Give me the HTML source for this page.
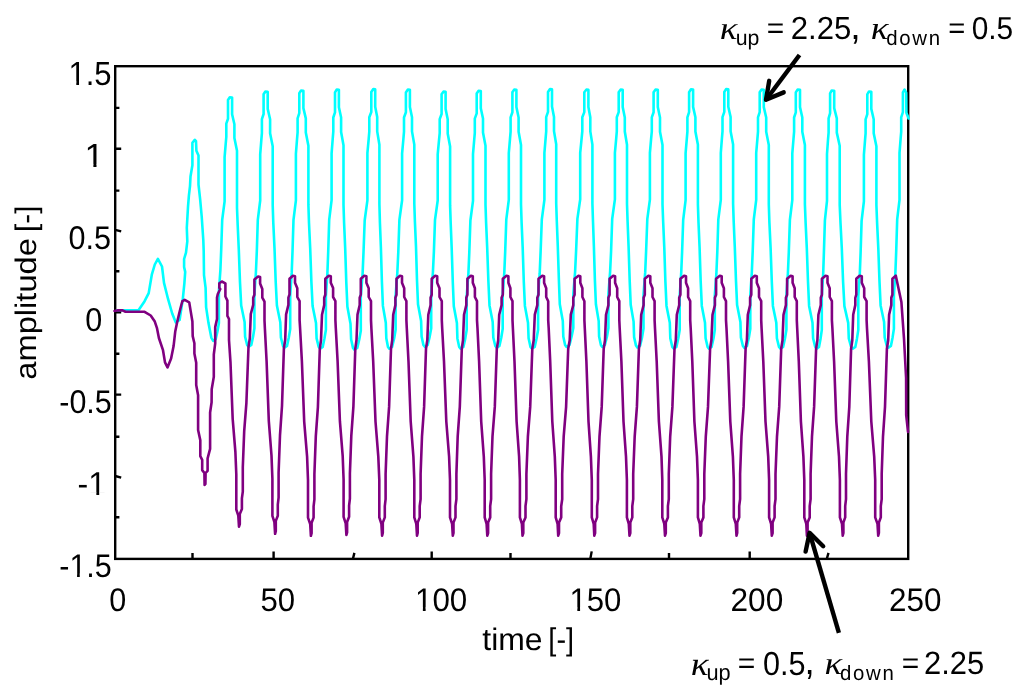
<!DOCTYPE html>
<html><head><meta charset="utf-8"><title>amplitude vs time</title>
<style>html,body{margin:0;padding:0;background:#fff;width:1024px;height:686px;overflow:hidden;font-family:"Liberation Sans",sans-serif}svg{display:block}</style>
</head><body>
<svg width="1024" height="686" viewBox="0 0 1024 686">
<rect width="1024" height="686" fill="#fff"/>
<path d="M115.2,107.9L119.4,107.9 M115.2,148.8L121.2,148.8 M115.2,190.6L119.4,190.6 M115.2,229.9L121.2,231.4 M115.2,271.3L119.4,271.3 M115.2,312.3L121.2,312.3 M115.2,353.8L119.4,353.8 M115.2,394.6L121.2,394.6 M115.2,436.7L119.4,436.7 M115.2,476.0L121.2,477.6 M115.2,517.3L119.4,517.3 M192.5,558.9L192.5,552.9 M273.6,558.9L273.6,551.4 M352.9,558.9L354.4,552.9 M431.7,558.9L431.7,551.4 M510.5,558.9L510.5,552.9 M590.3,558.9L591.7,551.4 M669.0,558.9L669.0,552.9 M749.7,558.9L749.7,551.4 M826.8,558.9L828.5,552.9" fill="none" stroke="#000" stroke-width="2.4"/>
<rect x="115.2" y="66.2" width="793.0" height="492.7" fill="none" stroke="#000" stroke-width="2.4"/>
<path d="M117.0,310.3 138.5,310.3 144.6,301.2 148.7,293.1 151.8,274.7 154.8,264.5 157.9,258.8 162.0,266.5 164.0,282.9 168.1,299.2 172.2,313.5 175.8,322.5 179.6,320.0 182.8,299.1 184.4,283.1 185.2,271.9 184.1,267.0 184.1,259.0 186.0,252.6 187.3,241.4 186.8,227.8 188.0,206.9 188.9,195.7 190.0,186.1 190.5,176.5 192.4,165.3 192.4,142.8 194.8,139.8 196.0,141.2 196.4,150.8 198.5,155.6 198.5,184.5 200.1,198.9 201.7,216.5 203.3,240.0 203.7,251.0 204.0,275.1 205.6,287.9 206.1,307.1 208.5,323.1 211.3,337.6 213.2,340.9 215.7,339.2 217.5,331.2 218.9,323.1 218.9,291.0 220.4,270.0 221.2,250.0 222.2,219.8 224.6,201.3 224.6,157.2 225.7,143.8 226.3,137.0 226.3,123.6 228.0,118.7 228.0,100.0 229.8,97.3 232.1,97.5 232.1,114.3 234.4,124.2 234.4,138.0 237.0,150.7 237.0,207.8 237.7,225.3 238.8,249.7 240.0,282.4 241.2,305.6 244.6,321.9 245.1,336.8 247.2,345.1 248.8,346.8 251.3,345.0 253.1,336.6 254.4,328.2 254.4,294.5 255.9,272.5 256.8,251.6 257.8,219.9 260.2,200.5 260.2,154.3 261.3,140.3 261.9,133.1 261.9,119.1 263.6,114.0 263.6,94.3 265.4,91.5 267.7,91.8 267.7,108.9 270.1,119.2 270.1,133.3 272.7,146.3 272.7,205.0 273.3,223.0 274.5,248.1 275.7,281.7 276.9,305.5 280.3,322.2 280.9,337.5 283.0,346.0 284.5,347.8 287.0,346.0 288.8,337.5 290.2,329.0 290.2,295.1 291.7,272.9 292.5,251.8 293.5,219.9 295.9,200.4 295.9,153.8 297.0,139.6 297.6,132.4 297.6,118.3 299.3,113.1 299.3,93.3 301.1,90.5 303.4,90.8 303.4,108.1 305.8,118.4 305.8,132.6 308.4,145.8 308.4,204.9 309.0,223.0 310.2,248.3 311.4,282.1 312.6,306.1 316.0,322.9 316.6,338.4 318.7,346.9 320.2,348.7 322.7,346.9 324.5,338.3 325.9,329.8 325.9,295.6 327.4,273.3 328.2,252.0 329.2,219.9 331.6,200.2 331.6,153.3 332.7,139.0 333.3,131.7 333.3,117.5 335.0,112.3 335.0,92.4 336.8,89.5 338.9,89.8 338.9,107.2 341.1,117.6 341.1,131.9 343.5,145.2 343.5,204.8 344.1,223.0 345.2,248.5 346.3,282.6 347.4,306.8 350.5,323.7 351.1,339.3 353.0,347.9 354.4,349.7 357.3,347.9 359.3,339.3 360.8,330.7 360.8,296.3 362.6,273.9 363.5,252.5 364.7,220.2 367.4,200.4 367.4,153.2 368.7,138.9 369.3,131.6 369.3,117.2 371.3,112.0 371.3,92.0 373.3,89.1 375.2,89.4 375.2,106.8 377.2,117.1 377.2,131.4 379.4,144.7 379.4,204.1 379.9,222.3 380.9,247.7 381.9,281.7 382.9,305.9 385.8,322.7 386.3,338.3 388.0,346.9 389.3,348.7 392.1,346.9 394.2,338.3 395.6,329.8 395.6,295.6 397.3,273.3 398.3,252.0 399.4,219.9 402.1,200.2 402.1,153.3 403.4,139.0 404.0,131.7 404.0,117.5 405.9,112.3 405.9,92.4 407.9,89.5 409.9,89.8 409.9,107.0 412.0,117.3 412.0,131.4 414.3,144.6 414.3,203.5 414.9,221.5 416.0,246.7 417.0,280.4 418.0,304.3 421.1,321.1 421.6,336.5 423.4,345.0 424.8,346.8 427.7,345.0 429.7,336.6 431.2,328.2 431.2,294.5 432.9,272.5 433.9,251.6 435.0,219.9 437.7,200.5 437.7,154.3 439.0,140.3 439.7,133.1 439.7,119.1 441.6,114.0 441.6,94.3 443.6,91.5 445.6,91.8 445.6,109.0 447.7,119.3 447.7,133.4 450.1,146.5 450.1,205.4 450.7,223.4 451.7,248.6 452.8,282.3 453.8,306.3 456.9,323.0 457.4,338.4 459.2,346.9 460.6,348.7 463.4,346.9 465.3,338.4 466.7,329.9 466.7,295.8 468.4,273.6 469.3,252.5 470.4,220.5 473.0,200.9 473.0,154.2 474.2,140.0 474.8,132.8 474.8,118.6 476.7,113.4 476.7,93.5 478.6,90.7 480.8,91.0 480.8,108.2 483.0,118.5 483.0,132.6 485.5,145.7 485.5,204.6 486.1,222.6 487.2,247.8 488.4,281.5 489.5,305.4 492.7,322.1 493.3,337.5 495.3,346.0 496.7,347.8 499.4,346.0 501.3,337.5 502.7,328.9 502.7,294.8 504.3,272.6 505.2,251.5 506.3,219.4 508.8,199.8 508.8,153.0 510.0,138.8 510.6,131.6 510.6,117.4 512.4,112.2 512.4,92.3 514.3,89.5 516.4,89.8 516.4,107.1 518.6,117.5 518.6,131.7 521.0,145.0 521.0,204.3 521.6,222.5 522.7,247.9 523.8,281.8 524.9,305.9 528.0,322.8 528.6,338.3 530.5,346.9 531.9,348.7 534.7,346.9 536.6,338.3 538.1,329.7 538.1,295.5 539.7,273.2 540.6,251.9 541.8,219.7 544.4,199.9 544.4,153.0 545.6,138.7 546.2,131.4 546.2,117.1 548.0,111.9 548.0,92.0 550.0,89.1 552.0,89.4 552.0,106.6 554.0,116.9 554.0,131.1 556.2,144.2 556.2,203.3 556.8,221.3 557.8,246.6 558.9,280.3 559.8,304.3 562.8,321.0 563.3,336.5 565.1,345.0 566.4,346.8 569.5,345.0 571.6,336.5 573.3,328.0 573.3,294.1 575.1,271.9 576.1,250.8 577.4,218.9 580.2,199.4 580.2,152.8 581.6,138.6 582.3,131.4 582.3,117.3 584.3,112.1 584.3,92.3 586.5,89.5 588.4,89.8 588.4,107.0 590.3,117.3 590.3,131.4 592.4,144.6 592.4,203.5 593.0,221.5 593.9,246.7 594.9,280.4 595.9,304.3 598.7,321.1 599.1,336.5 600.9,345.0 602.1,346.8 604.9,345.0 607.0,336.5 608.4,328.0 608.4,294.1 610.1,271.9 611.1,250.8 612.2,218.9 614.9,199.4 614.9,152.8 616.2,138.6 616.8,131.4 616.8,117.3 618.7,112.1 618.7,92.3 620.7,89.5 622.7,89.8 622.7,107.0 624.8,117.4 624.8,131.5 627.0,144.7 627.0,203.7 627.6,221.8 628.6,247.1 629.7,280.9 630.7,304.8 633.6,321.6 634.1,337.1 636.0,345.6 637.3,347.4 640.1,345.6 642.1,337.1 643.5,328.6 643.5,294.5 645.2,272.4 646.1,251.2 647.3,219.2 649.9,199.6 649.9,152.9 651.1,138.8 651.8,131.5 651.8,117.4 653.6,112.2 653.6,92.3 655.6,89.5 657.8,89.8 657.8,107.1 660.0,117.5 660.0,131.7 662.5,145.0 662.5,204.3 663.2,222.5 664.3,247.9 665.4,281.8 666.5,305.9 669.8,322.8 670.3,338.3 672.3,346.9 673.8,348.7 676.4,346.9 678.3,338.3 679.7,329.8 679.7,295.5 681.2,273.2 682.1,251.9 683.2,219.8 685.6,200.1 685.6,153.1 686.8,138.8 687.4,131.6 687.4,117.3 689.1,112.1 689.1,92.2 691.0,89.3 693.1,89.6 693.1,106.9 695.4,117.3 695.4,131.6 697.9,144.8 697.9,204.2 698.5,222.4 699.6,247.8 700.7,281.8 701.8,305.9 705.0,322.8 705.6,338.3 707.6,346.9 709.0,348.7 711.6,346.9 713.5,338.3 714.8,329.7 714.8,295.5 716.4,273.2 717.3,251.9 718.3,219.7 720.8,199.9 720.8,153.0 721.9,138.7 722.5,131.4 722.5,117.1 724.3,111.9 724.3,92.0 726.1,89.1 728.3,89.4 728.3,106.7 730.6,117.0 730.6,131.3 733.1,144.5 733.1,203.7 733.7,221.8 734.8,247.2 736.0,281.1 737.1,305.1 740.4,321.9 740.9,337.5 742.9,346.0 744.4,347.8 747.0,346.0 748.9,337.5 750.3,328.9 750.3,294.8 751.8,272.6 752.7,251.5 753.8,219.4 756.2,199.8 756.2,153.0 757.4,138.8 758.0,131.6 758.0,117.4 759.7,112.2 759.7,92.3 761.6,89.5 763.8,89.8 763.8,107.1 766.2,117.5 766.2,131.7 768.8,145.0 768.8,204.3 769.4,222.5 770.6,247.9 771.8,281.8 772.9,305.9 776.3,322.8 776.9,338.3 779.0,346.9 780.5,348.7 783.1,346.9 785.0,338.3 786.4,329.8 786.4,295.6 787.9,273.3 788.8,252.0 789.9,219.9 792.3,200.2 792.3,153.3 793.5,139.0 794.1,131.7 794.1,117.5 795.8,112.3 795.8,92.4 797.7,89.5 800.0,89.8 800.0,107.1 802.3,117.5 802.3,131.7 804.9,145.0 804.9,204.3 805.6,222.5 806.8,247.9 808.0,281.8 809.1,305.9 812.5,322.8 813.1,338.3 815.2,346.9 816.7,348.7 819.0,346.9 820.6,338.4 821.8,329.9 821.8,295.8 823.2,273.6 823.9,252.4 824.9,220.4 827.0,200.8 827.0,154.0 828.0,139.8 828.6,132.6 828.6,118.4 830.1,113.2 830.1,93.3 831.7,90.5 834.2,90.8 834.2,108.1 836.8,118.4 836.8,132.6 839.7,145.8 839.7,204.9 840.5,223.0 841.8,248.3 843.1,282.1 844.4,306.1 848.2,322.9 848.8,338.4 851.1,346.9 852.8,348.7 855.3,346.9 857.0,338.4 858.3,329.9 858.3,296.0 859.8,273.9 860.6,252.8 861.6,220.9 863.9,201.3 863.9,154.8 865.0,140.6 865.6,133.4 865.6,119.3 867.3,114.1 867.3,94.3 869.0,91.5 871.3,91.8 871.3,108.9 873.7,119.2 873.7,133.3 876.4,146.3 876.4,205.0 877.1,222.9 878.3,248.0 879.5,281.6 880.6,305.4 884.1,322.1 884.7,337.5 886.8,345.9 888.4,347.7 890.9,345.9 892.6,337.4 893.9,328.9 893.9,294.8 895.4,272.6 896.2,251.4 897.2,219.4 899.5,199.8 899.5,153.0 900.6,138.8 901.2,131.6 901.2,117.4 902.9,112.2 902.9,92.3 904.6,89.5 906.2,92.8 906.4,112.7 908.6,118.5" fill="none" stroke="#00ffff" stroke-width="2.6" stroke-linejoin="round" stroke-linecap="round"/>
<path d="M114.5,311.0 118.0,310.2 122.5,310.4 125.5,311.8 144.6,311.8 150.7,315.5 154.8,321.6 156.9,327.8 158.9,338.0 163.0,350.2 165.0,362.4 167.5,367.4 171.1,358.4 173.6,346.1 175.2,331.8 177.3,321.6 179.3,313.0 181.2,305.5 182.4,301.2 184.7,299.8 189.2,302.3 190.8,311.9 192.4,321.5 192.7,336.1 194.4,343.3 194.4,353.5 196.2,362.7 196.2,385.1 198.1,395.3 198.1,430.0 200.3,440.2 200.3,456.2 202.2,459.9 202.2,470.1 204.4,473.0 204.6,485.0 205.4,484.0 205.6,473.0 207.6,470.8 207.6,458.4 210.1,448.9 210.1,412.5 211.6,402.3 211.7,389.2 213.8,376.9 213.8,354.5 215.2,343.3 215.2,327.1 217.0,319.0 217.0,297.6 217.8,294.0 220.3,289.0 219.3,287.9 219.3,283.3 221.8,281.5 225.4,283.3 225.4,296.5 227.4,300.6 227.4,315.9 229.0,319.0 229.0,340.0 230.5,362.7 232.7,419.2 235.4,452.2 236.3,474.2 236.3,509.5 238.3,515.6 239.0,526.6 239.8,524.1 239.8,514.1 241.9,509.1 241.9,498.3 242.8,491.6 242.8,467.3 244.2,431.1 246.4,402.8 248.5,346.8 249.8,338.5 250.8,314.0 253.2,304.8 253.2,297.8 254.4,294.8 254.4,279.5 258.1,276.5 260.1,277.0 260.1,283.4 262.3,288.9 262.3,297.6 264.5,301.7 264.5,320.5 264.9,328.7 266.6,361.4 268.8,420.8 271.5,455.6 272.4,478.7 272.4,515.8 274.4,522.2 275.1,533.8 275.8,531.2 275.8,520.9 277.8,515.7 277.8,504.6 278.6,497.7 278.6,472.6 280.0,435.2 282.0,406.0 283.9,348.2 285.2,339.7 286.1,314.4 288.4,304.9 288.4,297.6 289.5,294.5 289.5,278.8 292.9,275.7 295.0,276.2 295.0,282.7 297.3,288.2 297.3,297.0 299.6,301.2 299.6,320.2 300.1,328.5 301.9,361.5 304.2,421.6 307.1,456.7 308.0,480.1 308.0,517.6 310.2,524.1 310.9,535.8 311.6,533.2 311.6,522.8 313.6,517.6 313.6,506.4 314.4,499.4 314.4,474.2 315.8,436.4 317.9,407.1 319.8,348.8 321.0,340.2 322.0,314.7 324.2,305.1 324.2,297.8 325.3,294.7 325.3,278.8 328.8,275.7 330.8,276.2 330.8,282.7 333.1,288.1 333.1,297.0 335.4,301.1 335.4,320.0 335.8,328.3 337.6,361.3 339.9,421.2 342.7,456.2 343.6,479.5 343.6,516.8 345.7,523.3 346.4,535.0 347.1,532.4 347.1,522.0 349.1,516.8 349.1,505.7 349.9,498.7 349.9,473.5 351.3,435.9 353.4,406.6 355.3,348.6 356.5,340.0 357.5,314.6 359.7,305.0 359.7,297.7 360.8,294.6 360.8,278.8 364.3,275.7 366.4,276.2 366.4,282.7 368.7,288.2 368.7,297.0 371.0,301.2 371.0,320.1 371.4,328.5 373.2,361.5 375.5,421.5 378.3,456.6 379.3,480.0 379.3,517.4 381.4,523.9 382.1,535.6 382.8,533.0 382.8,522.6 384.8,517.4 384.8,506.2 385.6,499.2 385.6,474.0 387.0,436.3 389.1,406.9 391.0,348.7 392.2,340.2 393.2,314.7 395.4,305.1 395.4,297.8 396.5,294.7 396.5,278.8 400.0,275.7 402.0,276.2 402.0,282.7 404.2,288.2 404.2,297.0 406.4,301.2 406.4,320.1 406.8,328.5 408.5,361.5 410.7,421.5 413.4,456.6 414.3,480.0 414.3,517.4 416.3,523.9 417.0,535.6 417.7,533.0 417.7,522.6 419.7,517.4 419.7,506.2 420.6,499.2 420.6,474.0 422.0,436.3 424.1,406.9 426.0,348.7 427.3,340.2 428.3,314.7 430.6,305.1 430.6,297.8 431.7,294.7 431.7,278.8 435.2,275.7 437.2,276.2 437.2,282.7 439.5,288.2 439.5,297.0 441.8,301.2 441.8,320.1 442.2,328.5 444.0,361.5 446.3,421.5 449.1,456.6 450.0,480.0 450.0,517.4 452.1,523.9 452.8,535.6 453.5,533.0 453.5,522.6 455.5,517.4 455.5,506.2 456.4,499.2 456.4,474.0 457.7,436.3 459.8,406.9 461.8,348.7 463.0,340.2 464.0,314.7 466.3,305.1 466.3,297.8 467.4,294.7 467.4,278.8 470.9,275.7 472.8,276.2 472.8,282.7 474.9,288.2 474.9,297.0 477.0,301.2 477.0,320.1 477.5,328.5 479.1,361.5 481.2,421.5 483.8,456.6 484.7,480.0 484.7,517.4 486.6,523.9 487.3,535.6 488.1,533.0 488.1,522.6 490.2,517.4 490.2,506.2 491.1,499.2 491.1,474.0 492.5,436.3 494.8,406.9 496.8,348.7 498.2,340.2 499.2,314.7 501.6,305.1 501.6,297.8 502.8,294.7 502.8,278.8 506.5,275.7 508.4,276.2 508.4,282.7 510.4,288.2 510.4,297.0 512.5,301.2 512.5,320.1 512.9,328.5 514.5,361.5 516.6,421.5 519.1,456.6 519.9,480.0 519.9,517.4 521.9,523.9 522.5,535.6 523.3,533.0 523.3,522.6 525.5,517.4 525.5,506.2 526.4,499.2 526.4,474.0 527.9,436.3 530.2,406.9 532.3,348.7 533.7,340.2 534.8,314.7 537.3,305.1 537.3,297.8 538.5,294.7 538.5,278.8 542.3,275.7 544.1,276.2 544.1,282.7 546.2,288.2 546.2,297.0 548.2,301.2 548.2,320.1 548.7,328.5 550.2,361.5 552.3,421.5 554.8,456.6 555.7,480.0 555.7,517.4 557.6,523.9 558.2,535.6 559.0,533.0 559.0,522.6 561.2,517.4 561.2,506.2 562.2,499.2 562.2,474.0 563.7,436.3 566.1,406.9 568.2,348.7 569.7,340.2 570.8,314.7 573.3,305.1 573.3,297.8 574.6,294.7 574.6,278.8 578.5,275.7 580.3,276.2 580.3,282.7 582.4,288.2 582.4,297.0 584.4,301.2 584.4,320.1 584.8,328.5 586.4,361.5 588.5,421.5 590.9,456.6 591.8,480.0 591.8,517.4 593.7,523.9 594.3,535.6 595.1,533.0 595.1,522.6 597.1,517.4 597.1,506.2 598.0,499.2 598.0,474.0 599.5,436.3 601.7,406.9 603.7,348.7 605.0,340.2 606.0,314.7 608.4,305.1 608.4,297.8 609.6,294.7 609.6,278.8 613.2,275.7 615.1,276.2 615.1,282.7 617.2,288.2 617.2,297.0 619.3,301.2 619.3,320.1 619.7,328.5 621.4,361.5 623.5,421.5 626.0,456.6 626.9,480.0 626.9,517.4 628.8,523.9 629.5,535.6 630.3,533.0 630.3,522.6 632.3,517.4 632.3,506.2 633.2,499.2 633.2,474.0 634.7,436.3 636.9,406.9 638.9,348.7 640.2,340.2 641.2,314.7 643.6,305.1 643.6,297.8 644.8,294.7 644.8,278.8 648.4,275.7 650.3,276.2 650.3,282.7 652.5,288.2 652.5,297.0 654.6,301.2 654.6,320.1 655.0,328.5 656.7,361.5 658.9,421.5 661.5,456.6 662.3,480.0 662.3,517.4 664.3,523.9 665.0,535.6 665.8,533.0 665.8,522.6 667.9,517.4 667.9,506.2 668.8,499.2 668.8,474.0 670.2,436.3 672.4,406.9 674.5,348.7 675.8,340.2 676.8,314.7 679.2,305.1 679.2,297.8 680.4,294.7 680.4,278.8 684.1,275.7 686.0,276.2 686.0,282.7 688.1,288.2 688.1,297.0 690.2,301.2 690.2,320.1 690.7,328.5 692.3,361.5 694.4,421.5 697.0,456.6 697.9,480.0 697.9,517.4 699.8,523.9 700.5,535.6 701.3,533.0 701.3,522.6 703.4,517.4 703.4,506.2 704.3,499.2 704.3,474.0 705.8,436.3 708.0,406.9 710.1,348.7 711.4,340.2 712.5,314.7 714.9,305.1 714.9,297.8 716.1,294.7 716.1,278.8 719.8,275.7 721.7,276.2 721.7,282.7 723.9,288.2 723.9,297.0 726.0,301.2 726.0,320.1 726.5,328.5 728.1,361.5 730.3,421.5 732.9,456.6 733.8,480.0 733.8,517.4 735.8,523.9 736.5,535.6 737.2,533.0 737.2,522.6 739.2,517.4 739.2,506.2 740.1,499.2 740.1,474.0 741.5,436.3 743.6,406.9 745.6,348.7 746.9,340.2 747.8,314.7 750.1,305.1 750.1,297.8 751.3,294.7 751.3,278.8 754.8,275.7 756.8,276.2 756.8,282.7 759.0,288.2 759.0,297.0 761.2,301.2 761.2,320.1 761.6,328.5 763.3,361.5 765.5,421.5 768.2,456.6 769.1,480.0 769.1,517.4 771.1,523.9 771.8,535.6 772.6,533.0 772.6,522.6 774.6,517.4 774.6,506.2 775.5,499.2 775.5,474.0 777.0,436.3 779.2,406.9 781.2,348.7 782.5,340.2 783.5,314.7 785.9,305.1 785.9,297.8 787.1,294.7 787.1,278.8 790.7,275.7 792.6,276.2 792.6,282.7 794.7,288.2 794.7,297.0 796.8,301.2 796.8,320.1 797.2,328.5 798.8,361.5 800.9,421.5 803.4,456.6 804.3,480.0 804.3,517.4 806.3,523.9 806.9,535.6 807.6,533.0 807.6,522.6 809.7,517.4 809.7,506.2 810.6,499.2 810.6,474.0 812.0,436.3 814.1,406.9 816.1,348.7 817.4,340.2 818.4,314.7 820.8,305.1 820.8,297.8 821.9,294.7 821.9,278.8 825.5,275.7 827.5,276.2 827.5,282.7 829.7,288.2 829.7,297.0 831.9,301.2 831.9,320.1 832.4,328.5 834.1,361.5 836.3,421.5 839.0,456.6 839.9,480.0 839.9,517.4 842.0,523.9 842.7,535.6 843.4,533.0 843.4,522.6 845.2,517.4 845.2,506.2 846.0,499.2 846.0,474.0 847.3,436.3 849.3,406.9 851.1,348.7 852.3,340.2 853.2,314.7 855.3,305.1 855.3,297.8 856.3,294.7 856.3,278.8 859.6,275.7 861.8,276.2 861.8,282.7 864.2,288.2 864.2,297.0 866.6,301.2 866.6,320.1 867.0,328.5 868.9,361.5 871.3,421.5 874.2,456.6 875.2,480.0 875.2,517.4 877.5,523.9 878.2,535.6 878.9,533.0 878.9,522.6 880.8,517.4 880.8,506.2 881.7,499.2 881.7,474.0 883.0,436.3 885.0,406.9 886.9,348.7 888.2,340.2 889.1,314.7 891.3,305.1 891.3,297.8 892.4,294.7 892.4,278.8 895.8,275.7 901.4,302.0 904.0,338.7 906.1,378.0 906.2,415.0 908.0,431.9" fill="none" stroke="#800080" stroke-width="2.6" stroke-linejoin="round" stroke-linecap="round"/>
<g stroke="#000" stroke-width="4.4" fill="none">
<path d="M799.5,55 L766,99.8" stroke-linecap="butt"/>
<path d="M769.2,80.8 L766,99.8 L783.7,92.4" stroke-linecap="round" stroke-linejoin="round"/>
<path d="M838.9,632.8 L809.6,532.8" stroke-linecap="butt"/>
<path d="M805.6,551.6 L809.6,532.8 L823.2,546.2" stroke-linecap="round" stroke-linejoin="round"/>
</g>
<g fill="#000" opacity="0.999" style="font-kerning:none" text-rendering="geometricPrecision">
<text transform="matrix(0.30912 0.00000 0.00000 0.33393 68.527 84.774)" font-family="Liberation Sans" font-size="100">1.5</text><g fill="#fff" transform="matrix(0.30912 0.00000 0.00000 0.33393 68.527 84.774)"><rect x="5.371" y="-10.010" width="19.775" height="12.939"/><rect x="33.984" y="-10.010" width="19.238" height="12.939"/></g>
<text transform="matrix(0.35296 0.00000 0.00000 0.33285 84.505 167.300)" font-family="Liberation Sans" font-size="100">1</text><g fill="#fff" transform="matrix(0.35296 0.00000 0.00000 0.33285 84.505 167.300)"><rect x="5.371" y="-10.010" width="19.775" height="12.939"/><rect x="33.984" y="-10.010" width="19.238" height="12.939"/></g>
<text transform="matrix(0.30556 0.00000 0.00000 0.32768 68.606 249.180)" font-family="Liberation Sans" font-size="100">0.5</text>
<text transform="matrix(0.30542 0.00000 0.00000 0.33050 85.307 331.277)" font-family="Liberation Sans" font-size="100">0</text>
<text transform="matrix(0.30488 0.00000 0.00000 0.32768 59.245 413.180)" font-family="Liberation Sans" font-size="100">-0.5</text>
<text transform="matrix(0.32144 0.00000 0.00000 0.33140 77.572 495.400)" font-family="Liberation Sans" font-size="100">-1</text><g fill="#fff" transform="matrix(0.32144 0.00000 0.00000 0.33140 77.572 495.400)"><rect x="38.672" y="-10.010" width="19.775" height="12.939"/><rect x="67.285" y="-10.010" width="19.238" height="12.939"/></g>
<text transform="matrix(0.30488 0.00000 0.00000 0.32820 59.245 576.779)" font-family="Liberation Sans" font-size="100">-1.5</text><g fill="#fff" transform="matrix(0.30488 0.00000 0.00000 0.32820 59.245 576.779)"><rect x="38.672" y="-10.010" width="19.775" height="12.939"/><rect x="67.285" y="-10.010" width="19.238" height="12.939"/></g>
<text transform="matrix(0.30542 0.00000 0.00000 0.32486 109.307 610.583)" font-family="Liberation Sans" font-size="100">0</text>
<text transform="matrix(0.31165 0.00000 0.00000 0.32627 260.452 610.681)" font-family="Liberation Sans" font-size="100">50</text>
<text transform="matrix(0.31307 0.00000 0.00000 0.32627 414.989 610.581)" font-family="Liberation Sans" font-size="100">100</text><g fill="#fff" transform="matrix(0.31307 0.00000 0.00000 0.32627 414.989 610.581)"><rect x="5.371" y="-10.010" width="19.775" height="12.939"/><rect x="33.984" y="-10.010" width="19.238" height="12.939"/></g>
<text transform="matrix(0.31111 0.00000 0.00000 0.32627 569.507 610.581)" font-family="Liberation Sans" font-size="100">150</text><g fill="#fff" transform="matrix(0.31111 0.00000 0.00000 0.32627 569.507 610.581)"><rect x="5.371" y="-10.010" width="19.775" height="12.939"/><rect x="33.984" y="-10.010" width="19.238" height="12.939"/></g>
<text transform="matrix(0.31664 0.00000 0.00000 0.32627 730.508 610.581)" font-family="Liberation Sans" font-size="100">200</text>
<text transform="matrix(0.31410 0.00000 0.00000 0.32627 889.120 610.581)" font-family="Liberation Sans" font-size="100">250</text>
<text transform="matrix(0.31920 0.00000 0.00000 0.31183 482.317 650.095)" font-family="Liberation Sans" font-size="100">time</text>
<text transform="matrix(0.28951 0.00000 0.00000 0.31433 548.336 650.377)" font-family="Liberation Sans" font-size="100">[-]</text>
<text transform="matrix(0.36996 0.00000 0.00000 0.32463 719.745 38.900)" font-family="Liberation Serif" font-size="100" font-style="italic">κ</text>
<text transform="matrix(0.21286 0.00000 0.00000 0.21473 735.718 44.944)" font-family="Liberation Sans" font-size="100">up</text>
<text transform="matrix(0.29845 0.00000 0.00000 0.29789 766.843 37.704)" font-family="Liberation Sans" font-size="100">=</text>
<text transform="matrix(0.31122 0.00000 0.00000 0.31921 790.735 39.188)" font-family="Liberation Sans" font-size="100">2.25</text>
<text transform="matrix(0.37700 0.00000 0.00000 0.36617 850.313 39.016)" font-family="Liberation Sans" font-size="100">,</text>
<text transform="matrix(0.36996 0.00000 0.00000 0.32681 870.645 39.000)" font-family="Liberation Serif" font-size="100" font-style="italic">κ</text>
<text transform="matrix(0.20413 0.00000 0.00000 0.20834 886.143 44.597)" font-family="Liberation Sans" font-size="100" letter-spacing="8.301">down</text>
<text transform="matrix(0.29228 0.00000 0.00000 0.29789 948.373 37.704)" font-family="Liberation Sans" font-size="100">=</text>
<text transform="matrix(0.29868 0.00000 0.00000 0.31638 971.633 39.091)" font-family="Liberation Sans" font-size="100">0.5</text>
<text transform="matrix(0.37216 0.00000 0.00000 0.33117 690.737 674.600)" font-family="Liberation Serif" font-size="100" font-style="italic">κ</text>
<text transform="matrix(0.21783 0.00000 0.00000 0.22278 706.385 680.077)" font-family="Liberation Sans" font-size="100">up</text>
<text transform="matrix(0.30051 0.00000 0.00000 0.29789 737.733 672.904)" font-family="Liberation Sans" font-size="100">=</text>
<text transform="matrix(0.30556 0.00000 0.00000 0.33333 763.006 674.574)" font-family="Liberation Sans" font-size="100">0.5</text>
<text transform="matrix(0.36681 0.00000 0.00000 0.38320 804.504 674.198)" font-family="Liberation Sans" font-size="100">,</text>
<text transform="matrix(0.36996 0.00000 0.00000 0.32463 824.545 674.400)" font-family="Liberation Serif" font-size="100" font-style="italic">κ</text>
<text transform="matrix(0.20413 0.00000 0.00000 0.20834 839.943 679.897)" font-family="Liberation Sans" font-size="100" letter-spacing="8.301">down</text>
<text transform="matrix(0.29845 0.00000 0.00000 0.29789 901.843 672.904)" font-family="Liberation Sans" font-size="100">=</text>
<text transform="matrix(0.30960 0.00000 0.00000 0.32344 924.043 674.084)" font-family="Liberation Sans" font-size="100">2.25</text>
<text transform="matrix(0.00000 -0.32666 0.29717 0.00000 35.533 379.688)" font-family="Liberation Sans" font-size="100">amplitude</text>
<text transform="matrix(0.00000 -0.29621 0.29824 0.00000 35.611 231.912)" font-family="Liberation Sans" font-size="100">[-]</text>
</g>
</svg>
</body></html>
